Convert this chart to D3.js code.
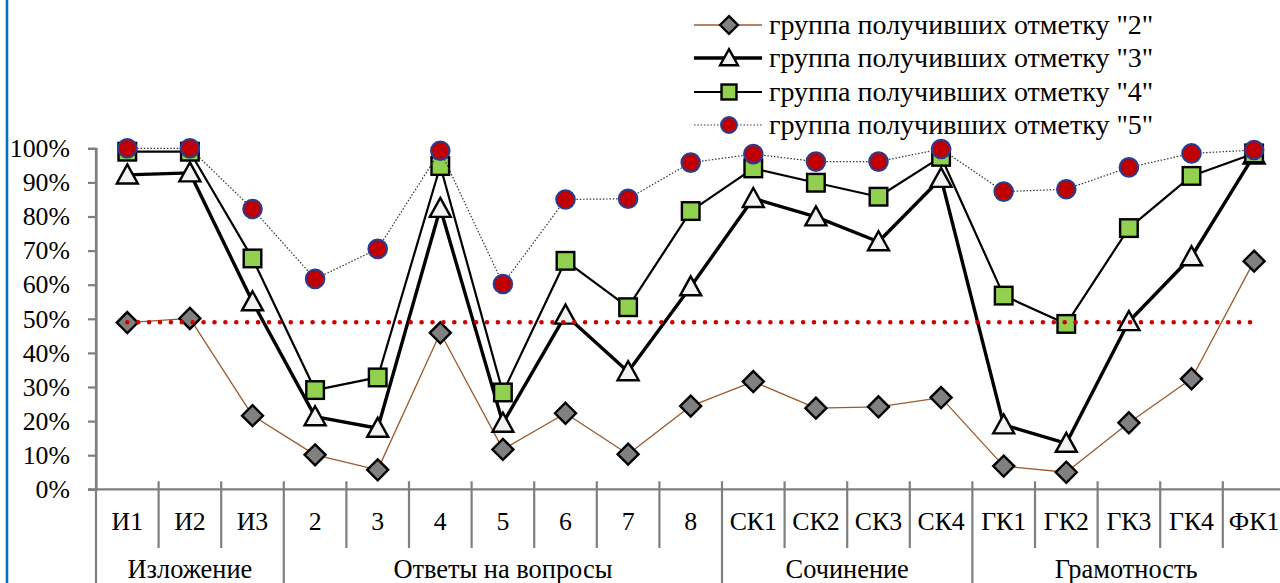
<!DOCTYPE html>
<html><head><meta charset="utf-8">
<script src="https://cdn.jsdelivr.net/npm/d3@7"></script>
<style>
html,body{margin:0;padding:0;background:#fff;}
svg{display:block;}
text{font-family:"Liberation Serif","Times New Roman",serif;fill:#000;}
</style></head>
<body>
<svg id="chart" width="1280" height="583"></svg>
<script>
const categories = ["И1","И2","И3","2","3","4","5","6","7","8","СК1","СК2","СК3","СК4","ГК1","ГК2","ГК3","ГК4","ФК1"];
const groups = [
  {name:"Изложение", from:0, to:3},
  {name:"Ответы на вопросы", from:3, to:10},
  {name:"Сочинение", from:10, to:14},
  {name:"Грамотность", from:14, to:19}
];
const seriesNames = ['группа получивших отметку "2"','группа получивших отметку "3"','группа получивших отметку "4"','группа получивших отметку "5"'];
const grade2 = [0.489,0.501,0.216,0.101,0.057,0.459,0.117,0.223,0.103,0.244,0.316,0.238,0.242,0.269,0.068,0.050,0.195,0.324,0.669];
const grade3 = [0.922,0.928,0.550,0.213,0.179,0.824,0.194,0.511,0.345,0.594,0.853,0.799,0.726,0.912,0.189,0.135,0.492,0.682,0.980];
const grade4 = [0.990,0.990,0.677,0.291,0.328,0.948,0.284,0.670,0.534,0.816,0.941,0.899,0.858,0.975,0.568,0.485,0.766,0.919,0.985];
const grade5 = [1.000,1.000,0.822,0.617,0.705,0.993,0.602,0.850,0.852,0.958,0.983,0.961,0.961,0.998,0.873,0.880,0.944,0.985,0.995];
const thresholdValue = 0.49;
const yTicks = [0,0.1,0.2,0.3,0.4,0.5,0.6,0.7,0.8,0.9,1.0];

const svg = d3.select("#chart");
const x = d3.scaleBand().domain(categories).range([96, 96 + 19*62.6]).padding(0);
const y = d3.scaleLinear().domain([0,1]).range([489.3,148.3]);
const cx = c => x(c) + x.bandwidth()/2;

// left blue border
svg.append("line").attr("x1",7).attr("x2",7).attr("y1",0).attr("y2",583)
  .attr("stroke","#0070C0").attr("stroke-width",2.6);

const axisColor = "#7F7F7F";
// Y axis
const yAxis = d3.axisLeft(y).tickValues(yTicks).tickFormat(d3.format(".0%")).tickSize(8).tickPadding(18);
const gy = svg.append("g").attr("transform","translate(96,0)").call(yAxis);
gy.select(".domain").attr("stroke",axisColor).attr("stroke-width",2.2);
gy.selectAll(".tick line").attr("stroke",axisColor).attr("stroke-width",2.2);
gy.selectAll(".tick text").attr("font-size",25.8).attr("font-family","Liberation Serif").attr("fill","#000");

// X axis baseline
const xr = x.range();
svg.append("line").attr("x1",88).attr("x2",1280).attr("y1",y(0)).attr("y2",y(0))
  .attr("stroke",axisColor).attr("stroke-width",2.2);

// category separators
const groupStarts = new Set(groups.map(g=>g.from));
categories.forEach((c,i)=>{
  const isGroup = groupStarts.has(i);
  svg.append("line").attr("x1",x(c)).attr("x2",x(c))
    .attr("y1", i===0 ? y(1) : y(0)-8).attr("y2", isGroup ? 583 : 548)
    .attr("stroke",axisColor).attr("stroke-width",2.2);
});
// category labels
svg.append("g").selectAll("text").data(categories).join("text")
  .attr("x",d=>cx(d)).attr("y",530).attr("text-anchor","middle")
  .attr("font-size",25.8).text(d=>d);
// group labels
svg.append("g").selectAll("text").data(groups).join("text")
  .attr("x",d=> (x(categories[d.from]) + (d.to<categories.length ? x(categories[d.to]) : xr[1]))/2 - (d.to>=categories.length? (xr[1]-1280)/2 : 0))
  .attr("y",578).attr("text-anchor","middle").attr("font-size",26.4).text(d=>d.name);

const line = d3.line().x((d,i)=>cx(categories[i])).y(d=>y(d));

const styles = [
  {data:grade2, stroke:"#9C5A2C", width:1.3, dash:null},
  {data:grade3, stroke:"#000", width:3.4, dash:null},
  {data:grade4, stroke:"#000", width:2.2, dash:null},
  {data:grade5, stroke:"#333", width:1.2, dash:"1.5 1.8"}
];

function drawMarker(g, k, px, py, s){
  if(k===0){
    const r = 10.5*s;
    g.append("path").attr("d",`M${px},${py-r}L${px+r},${py}L${px},${py+r}L${px-r},${py}Z`)
      .attr("fill","#808080").attr("stroke","#000").attr("stroke-width",2.4);
  } else if(k===1){
    const w = 10.5*s, h = 19*s;
    g.append("path").attr("d",`M${px},${py-h*0.55}L${px+w},${py+h*0.45}L${px-w},${py+h*0.45}Z`)
      .attr("fill","#F2F2F2").attr("stroke","#000").attr("stroke-width",2.4).attr("stroke-linejoin","miter");
  } else if(k===2){
    const r = 8.8*s;
    g.append("rect").attr("x",px-r).attr("y",py-r).attr("width",2*r).attr("height",2*r)
      .attr("fill","#92D050").attr("stroke","#000").attr("stroke-width",2.4);
  } else {
    g.append("circle").attr("cx",px).attr("cy",py).attr("r",9.2*s)
      .attr("fill","#C00000").attr("stroke","#2E3A8C").attr("stroke-width",2.2);
  }
}

styles.forEach((st,k)=>{
  const g = svg.append("g");
  const p = g.append("path").datum(st.data).attr("d",line).attr("fill","none")
    .attr("stroke",st.stroke).attr("stroke-width",st.width).attr("stroke-linejoin","round");
  if(st.dash) p.attr("stroke-dasharray",st.dash);
  st.data.forEach((v,i)=> drawMarker(g,k,cx(categories[i]),y(v),1));
});

// threshold dotted red line
svg.append("line").attr("x1",cx(categories[0])).attr("x2",cx(categories[categories.length-1]))
  .attr("y1",y(thresholdValue)).attr("y2",y(thresholdValue))
  .attr("stroke","#D00000").attr("stroke-width",4.6).attr("stroke-linecap","round")
  .attr("stroke-dasharray","0 10.9");

// legend
const legY = [25,58,92,125];
seriesNames.forEach((n,k)=>{
  const g = svg.append("g");
  const st = styles[k];
  const l = g.append("line").attr("x1",694).attr("x2",762).attr("y1",legY[k]).attr("y2",legY[k])
    .attr("stroke",st.stroke).attr("stroke-width",st.width);
  if(st.dash) l.attr("stroke-dasharray",st.dash);
  drawMarker(g,k,729,legY[k],0.85);
  g.append("text").attr("x",769).attr("y",legY[k]+9).attr("font-size",28).text(n);
});
</script>
</body></html>
